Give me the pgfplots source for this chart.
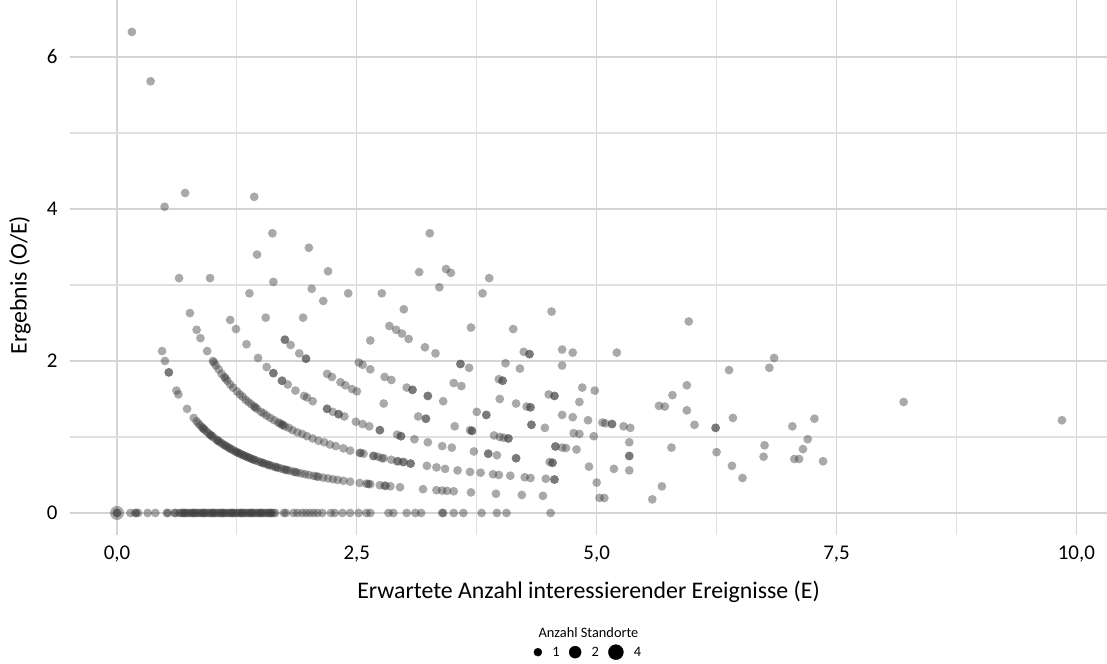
\documentclass[border=0pt]{standalone}
\usepackage{pgfplots}
\pgfplotsset{compat=1.18}
\usepackage{pgfplotstable}
\usepackage{fontspec}
\setmainfont{Carlito}
\definecolor{ptcol}{RGB}{60,60,60}
\definecolor{majgrid}{RGB}{212,212,212}
\definecolor{mingrid}{RGB}{224,224,224}
\pgfplotsset{
  scatter pts/.style={only marks, mark=*, mark size=4.4bp, color=ptcol,
    draw opacity=0, fill opacity=0.44,
    mark options={solid, fill=ptcol, draw=ptcol, draw opacity=0, fill opacity=0.44, line width=0pt}},
}

% points on the axis (O = 0)
\pgfplotstableread{
x y
0.00 0
0.00 0
0.14 0
0.19 0
0.20 0
0.22 0
0.32 0
0.40 0
0.52 0
0.53 0
0.60 0
0.61 0
0.65 0
0.67 0
0.69 0
0.71 0
0.73 0
0.75 0
0.77 0
0.79 0
0.81 0
0.83 0
0.85 0
0.87 0
0.89 0
0.91 0
0.93 0
0.95 0
0.97 0
0.99 0
1.01 0
1.03 0
1.05 0
1.07 0
1.09 0
1.11 0
1.13 0
1.15 0
1.17 0
1.19 0
1.21 0
1.23 0
1.25 0
1.27 0
1.29 0
1.31 0
1.33 0
1.35 0
1.37 0
1.39 0
1.41 0
1.43 0
1.45 0
1.47 0
1.49 0
1.51 0
1.53 0
1.55 0
1.57 0
1.59 0
1.61 0
1.63 0
1.65 0
0.70 0
0.80 0
0.90 0
1.00 0
1.10 0
1.20 0
1.30 0
1.40 0
1.50 0
1.60 0
1.74 0
1.76 0
1.84 0
1.88 0
1.93 0
1.97 0
2.01 0
2.05 0
2.09 0
2.14 0
2.23 0
2.27 0
2.35 0
2.43 0
2.52 0
2.60 0
2.64 0
2.83 0
2.88 0
3.02 0
3.11 0
3.17 0
3.39 0
3.40 0
3.51 0
3.61 0
3.80 0
3.96 0
4.06 0
4.52 0
}\zerorow

% O = 1
\pgfplotstableread{
x y
0.47 2.13
0.50 2.00
0.54 1.85
0.54 1.85
0.62 1.61
0.64 1.56
0.73 1.37
0.80 1.25
0.83 1.205
0.85 1.176
0.87 1.149
0.89 1.124
0.91 1.099
0.93 1.075
0.95 1.053
0.97 1.031
0.99 1.010
1.01 0.990
1.04 0.962
1.06 0.943
1.08 0.926
1.10 0.909
1.13 0.885
1.15 0.870
1.18 0.847
1.20 0.833
1.22 0.820
1.25 0.800
1.27 0.787
1.30 0.769
1.32 0.758
1.35 0.741
1.37 0.730
1.40 0.714
1.42 0.704
1.45 0.690
1.48 0.676
1.50 0.667
1.53 0.654
1.56 0.641
1.59 0.629
1.62 0.617
1.65 0.606
1.68 0.595
1.71 0.585
1.74 0.575
1.77 0.565
1.80 0.556
1.84 0.543
1.88 0.532
1.92 0.521
1.96 0.510
2.00 0.500
2.05 0.488
2.10 0.476
2.15 0.465
2.20 0.455
2.25 0.444
2.30 0.435
2.36 0.424
2.43 0.412
2.53 0.395
2.60 0.385
2.64 0.379
2.74 0.365
2.79 0.358
2.85 0.351
2.95 0.339
3.19 0.313
3.33 0.300
3.39 0.295
3.44 0.291
3.51 0.285
3.69 0.271
3.95 0.253
4.22 0.237
4.44 0.225
5.03 0.199
5.08 0.197
5.58 0.179
0.90 1.111
0.98 1.020
1.05 0.952
1.12 0.893
1.17 0.855
1.24 0.806
1.28 0.781
1.33 0.752
1.38 0.725
1.43 0.699
1.52 0.658
1.58 0.633
1.66 0.602
1.76 0.568
1.86 0.538
2.08 0.481
2.62 0.382
2.80 0.357
}\oone

% O = 2
\pgfplotstableread{
x y
0.35 5.68
0.496 4.03
0.647 3.09
0.76 2.63
0.83 2.41
0.87 2.30
0.94 2.13
1.00 2.00
1.01 1.98
1.03 1.94
1.06 1.89
1.09 1.83
1.12 1.79
1.13 1.77
1.15 1.74
1.18 1.69
1.21 1.65
1.25 1.60
1.28 1.56
1.31 1.53
1.34 1.49
1.37 1.46
1.40 1.43
1.43 1.40
1.44 1.39
1.46 1.37
1.50 1.33
1.53 1.31
1.56 1.28
1.60 1.25
1.64 1.22
1.68 1.19
1.70 1.18
1.72 1.16
1.73 1.16
1.75 1.14
1.79 1.12
1.83 1.09
1.88 1.06
1.93 1.04
1.98 1.01
2.04 0.98
2.10 0.95
2.16 0.93
2.22 0.90
2.28 0.88
2.36 0.85
2.43 0.82
2.53 0.79
2.54 0.79
2.57 0.78
2.67 0.75
2.68 0.75
2.72 0.74
2.76 0.72
2.78 0.72
2.86 0.70
2.92 0.68
2.93 0.68
2.98 0.67
2.99 0.67
3.06 0.65
3.06 0.65
3.23 0.62
3.33 0.60
3.42 0.58
3.55 0.56
3.68 0.54
3.79 0.53
3.92 0.51
3.98 0.50
4.10 0.49
4.25 0.47
4.31 0.46
4.47 0.45
4.56 0.44
4.56 0.44
5.00 0.40
5.68 0.35
}\otwo

% O = 3
\pgfplotstableread{
x y
0.71 4.21
0.97 3.09
1.18 2.54
1.24 2.42
1.35 2.22
1.47 2.04
1.56 1.92
1.63 1.84
1.63 1.84
1.72 1.74
1.72 1.74
1.78 1.69
1.86 1.61
1.95 1.54
1.98 1.52
2.04 1.47
2.19 1.37
2.19 1.37
2.25 1.33
2.31 1.30
2.31 1.30
2.37 1.27
2.49 1.20
2.56 1.17
2.63 1.14
2.74 1.09
2.74 1.09
2.92 1.03
2.96 1.01
2.96 1.01
3.10 0.97
3.24 0.93
3.39 0.88
3.49 0.86
3.72 0.81
3.87 0.78
3.87 0.78
3.96 0.76
4.16 0.72
4.16 0.72
4.51 0.67
4.54 0.66
4.54 0.66
4.92 0.61
5.18 0.58
5.34 0.56
6.52 0.46
}\othree

% O = 4 and more
\pgfplotstableread{
x y
0.155 6.33
1.43 4.16
1.62 3.68
1.46 3.40
2.00 3.49
2.20 3.18
1.63 3.04
2.03 2.95
1.38 2.89
2.15 2.79
2.41 2.89
2.76 2.89
1.55 2.57
1.94 2.57
1.75 2.28
1.75 2.28
1.81 2.21
1.90 2.10
1.97 2.03
1.97 2.03
2.19 1.83
2.24 1.79
2.33 1.72
2.38 1.68
2.45 1.63
2.50 1.60
2.78 1.44
3.14 1.27
3.22 1.24
3.22 1.24
3.52 1.14
3.68 1.09
3.70 1.08
3.70 1.08
3.93 1.02
3.99 1.00
4.03 0.99
4.08 0.98
4.08 0.98
4.57 0.875
4.57 0.875
4.64 0.86
4.68 0.855
4.79 0.835
3.26 3.68
3.15 3.17
3.43 3.21
3.48 3.16
3.36 2.97
3.88 3.09
3.81 2.89
2.99 2.68
3.69 2.44
4.53 2.65
4.13 2.42
2.84 2.46
2.91 2.41
2.97 2.36
3.04 2.29
3.21 2.18
3.32 2.10
2.64 2.27
4.24 2.12
4.30 2.09
4.30 2.09
4.64 2.15
4.75 2.11
4.64 1.94
5.21 2.11
5.96 2.52
3.58 1.96
3.58 1.96
3.67 1.91
4.05 1.97
4.20 1.90
3.51 1.71
3.59 1.67
3.98 1.76
4.02 1.74
4.02 1.74
2.52 1.98
2.56 1.95
2.64 1.89
2.79 1.79
2.86 1.75
3.02 1.65
3.08 1.62
3.08 1.62
3.24 1.54
3.24 1.54
3.40 1.47
3.75 1.33
3.85 1.29
3.85 1.29
4.32 1.16
4.32 1.16
4.46 1.12
4.76 1.05
4.82 1.04
4.97 1.01
3.99 1.50
4.16 1.44
4.27 1.40
4.31 1.39
4.31 1.39
4.64 1.29
4.75 1.26
4.91 1.22
5.06 1.19
5.09 1.18
5.16 1.17
5.16 1.17
5.28 1.14
5.35 1.12
4.50 1.56
4.56 1.54
4.56 1.54
4.82 1.46
4.85 1.65
4.98 1.61
5.65 1.41
5.71 1.40
5.79 1.55
5.94 1.68
5.94 1.35
6.02 1.16
6.24 1.12
6.24 1.12
6.42 1.25
7.04 1.14
7.27 1.24
7.20 0.97
6.75 0.89
7.15 0.84
6.25 0.80
6.74 0.74
7.06 0.71
7.11 0.71
7.36 0.68
6.41 0.62
5.78 0.86
5.34 0.75
5.34 0.75
5.34 0.93
6.38 1.88
6.80 1.91
6.85 2.04
8.20 1.46
9.85 1.22
}\ohigh

\begin{document}
\begin{tikzpicture}
\useasboundingbox (0,0) rectangle (1107bp,664bp);
\begin{axis}[
  at={(70bp,129bp)}, anchor=south west,
  scale only axis, width=1037bp, height=535bp,
  xmin=-0.49, xmax=10.32, ymin=-0.29, ymax=6.75,
  xtick={0,2.5,5,7.5,10},
  xticklabels={{0,0},{2,5},{5,0},{7,5},{10,0}},
  minor xtick={1.25,3.75,6.25,8.75},
  ytick={0,2,4,6},
  yticklabels={0,2,4,6},
  minor ytick={1,3,5},
  grid=both,
  major grid style={draw=majgrid, line width=1.3bp},
  minor grid style={draw=mingrid, line width=1.1bp},
  axis line style={draw=none},
  major tick length=0pt, minor tick length=0pt,
  tick style={draw=none},
  tick label style={font=\fontsize{21}{24}\selectfont},
  every x tick label/.append style={anchor=base, yshift=-24bp},
  every y tick label/.append style={anchor=east, xshift=-9bp},
  xlabel={Erwartete Anzahl interessierender Ereignisse (E)},
  ylabel={Ergebnis (O/E)},
  label style={font=\fontsize{23.9}{27}\selectfont},
  xlabel style={at={(axis description cs:0.5,-0.1065)}, anchor=center},
  ylabel style={at={(axis description cs:-0.0482,0.467)}, anchor=center},
  clip=false,
  legend style={at={(axis description cs:0.5,-0.219)}, anchor=center,
    draw=none, fill=none, inner sep=0pt,
    font=\fontsize{14.4}{16}\selectfont,
    /tikz/every odd column/.append style={column sep=8.5bp},
    /tikz/every even column/.append style={column sep=7.5bp}},
  legend columns=3,
  legend image code/.code={\draw[#1] plot coordinates {(0bp,0bp)};},
]
\addplot[scatter pts, mark size=7bp, forget plot] coordinates {(0,0)};
\addplot[scatter pts, forget plot] table[x=x,y=y] {\zerorow};
\addplot[scatter pts, forget plot] table[x=x,y=y] {\oone};
\addplot[scatter pts, forget plot] table[x=x,y=y] {\otwo};
\addplot[scatter pts, forget plot] table[x=x,y=y] {\othree};
\addplot[scatter pts, forget plot] table[x=x,y=y] {\ohigh};
\addlegendimage{only marks, mark=*, mark size=4bp, black, mark options={draw=none, fill=black}}
\addlegendentry{1}
\addlegendimage{only marks, mark=*, mark size=6bp, black, mark options={draw=none, fill=black}}
\addlegendentry{2}
\addlegendimage{only marks, mark=*, mark size=7.5bp, black, mark options={draw=none, fill=black}}
\addlegendentry{4}
\node[font=\fontsize{14.4}{16}\selectfont, anchor=center] at (axis description cs:0.5,-0.183) {Anzahl Standorte};
\end{axis}
\end{tikzpicture}
\end{document}
